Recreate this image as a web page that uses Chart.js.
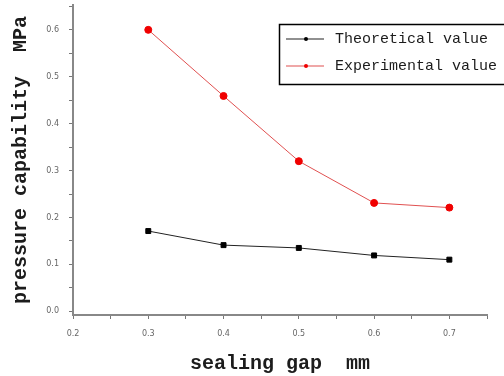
<!DOCTYPE html>
<html>
<head>
<meta charset="utf-8">
<script src="https://cdn.jsdelivr.net/npm/chart.js@4"></script>
<style>
  html, body { margin: 0; padding: 0; background: #fff; }
  #wrap { width: 504px; height: 376px; }
</style>
</head>
<body>
<div id="wrap"><canvas id="myChart" width="504" height="376"></canvas></div>
<script>
// sealing gap (mm)
const gaps = [0.3, 0.4, 0.5, 0.6, 0.7];
// pressure capability (MPa)
const theoretical = [0.171, 0.141, 0.135, 0.119, 0.110];
const experimental = [0.600, 0.459, 0.320, 0.231, 0.221];
const seriesNames = ['Theoretical value', 'Experimental value'];
const xLabelTicks = [0.2, 0.3, 0.4, 0.5, 0.6, 0.7];
const yLabelTicks = [0.0, 0.1, 0.2, 0.3, 0.4, 0.5, 0.6];
const yMinorTicks = [0.05, 0.15, 0.25, 0.35, 0.45, 0.55, 0.65];

const monoFont = '"Liberation Mono", "DejaVu Sans Mono", monospace';

function toPoints(xs, ys) {
    return xs.map((x, i) => ({ x: x, y: ys[i] }));
}

function isLabelled(list, v) {
    return list.some(t => Math.abs(t - v) < 1e-6);
}

// legend box drawn inside the plot, top right, clipped by the canvas edge
const boxLegend = {
    id: 'boxLegend',
    afterDraw(chart) {
        const ctx = chart.ctx;
        ctx.save();
        ctx.strokeStyle = '#000';
        ctx.lineWidth = 1.5;
        ctx.strokeRect(279.5, 24.5, 240, 60);
        chart.data.datasets.forEach((ds, i) => {
            const y = 39 + i * 27;
            ctx.strokeStyle = ds.borderColor;
            ctx.lineWidth = 1.2;
            ctx.beginPath();
            ctx.moveTo(286, y);
            ctx.lineTo(324, y);
            ctx.stroke();
            ctx.fillStyle = ds.pointBackgroundColor;
            ctx.beginPath();
            ctx.arc(306, y, 2, 0, Math.PI * 2);
            ctx.fill();
            ctx.fillStyle = '#1c1c1c';
            ctx.font = '15px ' + monoFont;
            ctx.textBaseline = 'middle';
            ctx.fillText(ds.label, 335, y);
        });
        ctx.restore();
    }
};

const ctx = document.getElementById('myChart').getContext('2d');
const chart = new Chart(ctx, {
    type: 'line',
    data: {
        datasets: [{
            label: seriesNames[0],
            data: toPoints(gaps, theoretical),
            borderColor: '#222',
            borderWidth: 1,
            pointStyle: 'rect',
            pointRadius: 3.5,
            pointBackgroundColor: '#000',
            pointBorderColor: '#000',
            tension: 0
        }, {
            label: seriesNames[1],
            data: toPoints(gaps, experimental),
            borderColor: '#e05050',
            borderWidth: 1,
            pointStyle: 'circle',
            pointRadius: 3.5,
            pointBackgroundColor: '#f00000',
            pointBorderColor: '#f00000',
            tension: 0
        }]
    },
    options: {
        responsive: false,
        animation: false,
        layout: { padding: { left: 9, right: 17, top: 5, bottom: 0 } },
        plugins: { legend: { display: false }, tooltip: { enabled: false } },
        scales: {
            x: {
                type: 'linear',
                min: 0.2,
                max: 0.75,
                afterFit(scale) {
                    scale.height = 61;
                    scale.paddingRight = 0;
                },
                ticks: {
                    stepSize: 0.05,
                    autoSkip: false,
                    maxRotation: 0,
                    padding: 10,
                    color: '#666',
                    font: { size: 8, family: 'DejaVu Sans' },
                    callback: v => isLabelled(xLabelTicks, v) ? v.toFixed(1) : ''
                },
                grid: {
                    drawOnChartArea: false,
                    tickLength: 4,
                    tickColor: '#777',
                    lineWidth: 1
                },
                border: { color: '#888', width: 2 },
                title: {
                    display: true,
                    text: 'sealing gap  mm',
                    color: '#1c1c1c',
                    font: { size: 20, family: monoFont, weight: 'bold' },
                    padding: { top: 4, bottom: 0 }
                }
            },
            y: {
                type: 'linear',
                min: -0.008,
                max: 0.653,
                afterFit(scale) {
                    scale.width = 64;
                    scale.paddingTop = 0;
                    scale.paddingBottom = 0;
                },
                afterBuildTicks(scale) {
                    scale.ticks = yLabelTicks.concat(yMinorTicks)
                        .sort((a, b) => a - b)
                        .map(v => ({ value: v }));
                },
                ticks: {
                    autoSkip: false,
                    padding: 10,
                    color: '#666',
                    font: { size: 8, family: 'DejaVu Sans' },
                    callback: v => isLabelled(yLabelTicks, v) ? v.toFixed(1) : ''
                },
                grid: {
                    drawOnChartArea: false,
                    tickLength: 4,
                    tickColor: '#777',
                    lineWidth: 1
                },
                border: { color: '#888', width: 2 },
                title: {
                    display: true,
                    text: 'pressure capability  MPa',
                    color: '#1c1c1c',
                    font: { size: 20, family: monoFont, weight: 'bold' },
                    padding: { top: 0, bottom: 6 }
                }
            }
        }
    },
    plugins: [boxLegend]
});
</script>
</body>
</html>
